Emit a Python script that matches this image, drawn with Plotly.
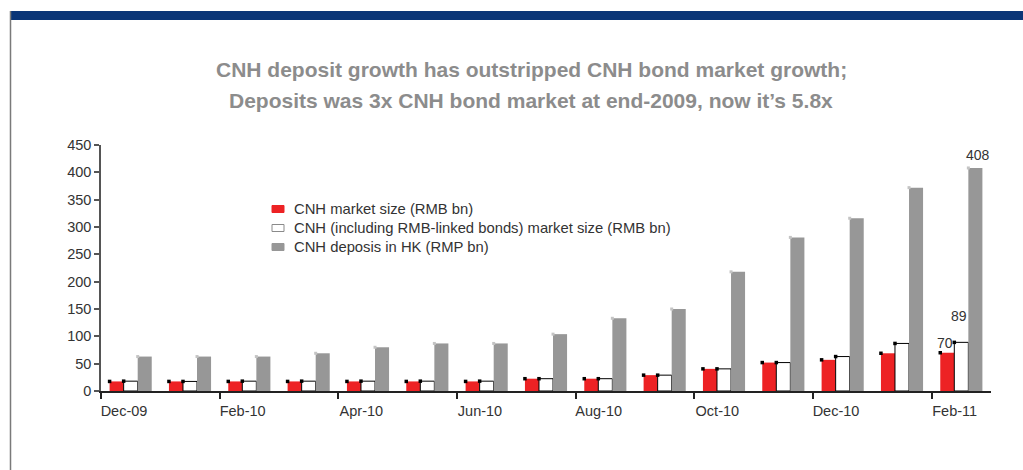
import plotly.graph_objects as go

# ---------------- data ----------------
months = ["Dec-09", "Jan-10", "Feb-10", "Mar-10", "Apr-10", "May-10", "Jun-10", "Jul-10",
          "Aug-10", "Sep-10", "Oct-10", "Nov-10", "Dec-10", "Jan-11", "Feb-11"]
tick_labels = ["Dec-09", "Feb-10", "Apr-10", "Jun-10", "Aug-10", "Oct-10", "Dec-10", "Feb-11"]
cnh_market = [17.5, 17.5, 17.5, 17.5, 17.5, 17.5, 17.5, 22.5, 22.5, 29, 40.5, 52, 57, 69, 70]
cnh_incl_linked = [18, 17.5, 18, 18, 18, 18, 18, 22.5, 22.5, 29, 40.5, 52, 63, 87, 89]
deposits = [63, 63, 63, 69, 80, 87, 87, 104, 133, 150, 218, 281, 316, 372, 408]
series_names = ["CNH market size (RMB bn)",
                "CNH (including RMB-linked bonds) market size (RMB bn)",
                "CNH deposis in HK (RMP bn)"]
title_lines = ["CNH deposit growth has outstripped CNH bond market growth;",
               "Deposits was 3x CNH bond market at end-2009, now it\u2019s 5.8x"]

# ---------------- layout constants ----------------
W, H = 1023, 470
ML, MR, MT, MB = 101, 32, 145, 79
PW, PH = W - ML - MR, H - MT - MB
RED, GREY, BLUE = "#ed2224", "#979797", "#0a3577"
TXT = "#333333"
FONT = "Liberation Sans, Arial, sans-serif"
BARGAP = 0.29
bw = (1 - BARGAP) / 3


def xp(px):
    return (px - ML) / PW


def yp(py):
    return (H - MB - py) / PH


idx = list(range(len(months)))

fig = go.Figure()
fig.add_bar(x=idx, y=cnh_market, name=series_names[0], marker=dict(color=RED, line=dict(width=0)),
            showlegend=False)
fig.add_bar(x=idx, y=cnh_incl_linked, name=series_names[1],
            marker=dict(color="white", line=dict(color="black", width=1)), showlegend=False)
fig.add_bar(x=idx, y=deposits, name=series_names[2], marker=dict(color=GREY, line=dict(width=0)),
            showlegend=False)

# small corner dots at the top-left of each bar
fig.add_scatter(x=[i - 1.5 * bw for i in idx], y=cnh_market, mode="markers",
                marker=dict(symbol="square", size=3.5, color="black"), showlegend=False,
                hoverinfo="skip", cliponaxis=False)
fig.add_scatter(x=[i - 0.5 * bw for i in idx], y=cnh_incl_linked, mode="markers",
                marker=dict(symbol="square", size=3.5, color="black"), showlegend=False,
                hoverinfo="skip", cliponaxis=False)
fig.add_scatter(x=[i + 0.5 * bw for i in idx], y=deposits, mode="markers",
                marker=dict(symbol="square", size=3, color="#c4c4c4"), showlegend=False,
                hoverinfo="skip", cliponaxis=False)

annotations = []
# title
for line, ypx in zip(title_lines, [70, 100]):
    annotations.append(dict(text="<b>%s</b>" % line, xref="paper", yref="paper",
                            x=xp(531), y=yp(ypx), xanchor="center", yanchor="middle",
                            showarrow=False, font=dict(family=FONT, size=21, color="#8c8c8c")))
# value labels on last month
last = idx[-1]
annotations.append(dict(text=str(deposits[-1]), x=last + bw, y=deposits[-1], xref="x", yref="y",
                        showarrow=False, yanchor="bottom", xshift=3, yshift=3,
                        font=dict(family=FONT, size=14, color=TXT)))
annotations.append(dict(text=str(cnh_incl_linked[-1]), x=last, y=cnh_incl_linked[-1], xref="x", yref="y",
                        showarrow=False, yanchor="bottom", xshift=-2, yshift=16,
                        font=dict(family=FONT, size=14, color=TXT)))
annotations.append(dict(text=str(cnh_market[-1]), x=last - bw, y=cnh_market[-1], xref="x", yref="y",
                        showarrow=False, yanchor="bottom", xshift=-2, yshift=0,
                        font=dict(family=FONT, size=14, color=TXT)))

shapes = []
# top blue band and left rule
shapes.append(dict(type="rect", xref="paper", yref="paper", x0=xp(10), x1=xp(1030),
                   y0=yp(20), y1=yp(11), fillcolor=BLUE, line=dict(width=0), layer="above"))
shapes.append(dict(type="line", xref="paper", yref="paper", x0=xp(10.5), x1=xp(10.5),
                   y0=yp(11), y1=yp(475), line=dict(color="#7a7a7a", width=1.5)))

# manual legend
leg_fill = [RED, "white", GREY]
leg_line = [RED, "#8a8a8a", GREY]
for k, (name, fc, lc) in enumerate(zip(series_names, leg_fill, leg_line)):
    cy = 209 + 19 * k
    shapes.append(dict(type="rect", xref="paper", yref="paper", x0=xp(272), x1=xp(284),
                       y0=yp(cy + 3.5), y1=yp(cy - 3.5), fillcolor=fc, line=dict(color=lc, width=1)))
    annotations.append(dict(text=name, xref="paper", yref="paper", x=xp(292), y=yp(cy),
                            xanchor="left", yanchor="middle", showarrow=False,
                            font=dict(family=FONT, size=14.8, color=TXT)))

fig.update_layout(
    width=W, height=H,
    margin=dict(l=ML, r=MR, t=MT, b=MB, autoexpand=False),
    paper_bgcolor="white", plot_bgcolor="white",
    barmode="group", bargap=BARGAP, bargroupgap=0,
    font=dict(family=FONT, size=14.5, color=TXT),
    annotations=annotations, shapes=shapes,
    xaxis=dict(range=[-0.5, len(months) - 0.5], tickmode="array",
               tickvals=[i - 0.5 for i in range(0, len(months), 2)], ticktext=tick_labels,
               ticks="outside", ticklen=6, tickwidth=1.5, tickcolor="#222222",
               showline=True, linecolor="#222222", linewidth=1.5,
               showgrid=False, zeroline=False, ticklabelshift=23,
               tickfont=dict(family=FONT, size=14.5, color=TXT)),
    yaxis=dict(range=[0, 450], tickmode="linear", dtick=50, tick0=0,
               ticks="outside", ticklen=5, tickwidth=1.5, tickcolor="#555555",
               showline=True, linecolor="#555555", linewidth=1.5,
               showgrid=False, zeroline=False,
               tickfont=dict(family=FONT, size=14.5, color=TXT)),
)

fig.write_html("out.html")
